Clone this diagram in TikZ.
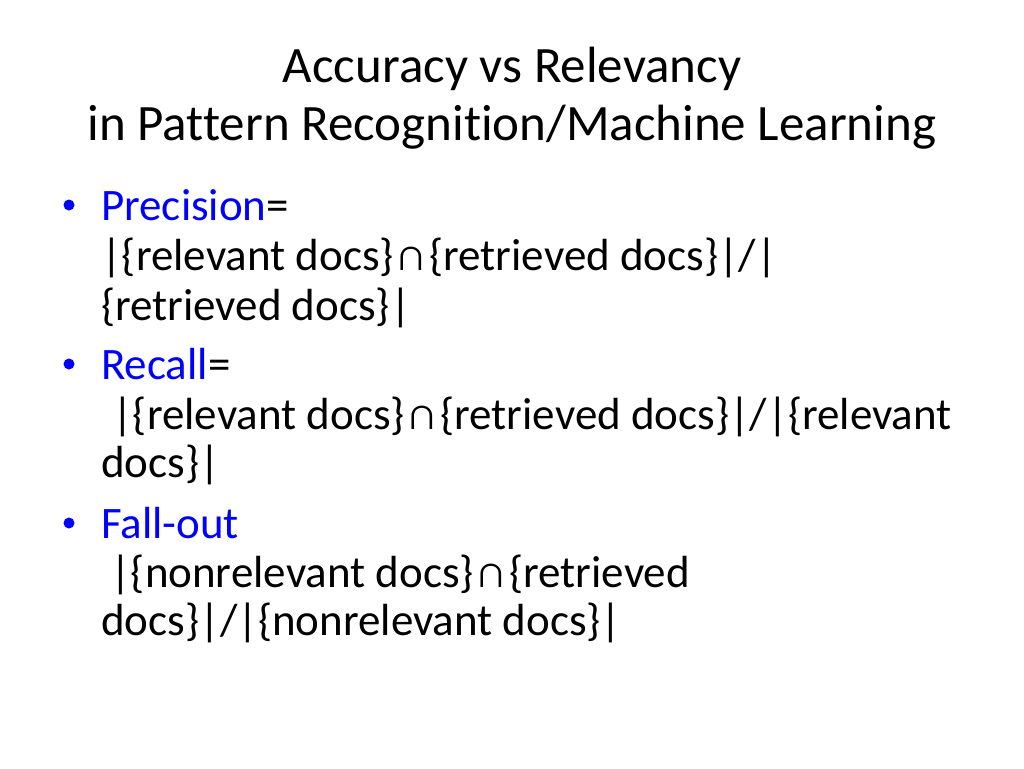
\documentclass[tikz,border=0pt]{standalone}
\usepackage{fontspec}
\setmainfont{Carlito}[Ligatures=NoCommon]
\definecolor{slideblue}{RGB}{0,0,255}
\newcommand{\capsym}{\hspace{2pt}∩\hspace{2pt}}
\begin{document}
\begin{tikzpicture}[x=1pt,y=-1pt,
  titletext/.style={anchor=base,inner sep=0pt,font=\fontsize{51}{56}\selectfont},
  bodytext/.style={anchor=base west,inner sep=0pt,font=\fontsize{45}{50}\selectfont},
  bulletmark/.style={circle,fill=slideblue,inner sep=0pt,minimum size=11pt}]
\useasboundingbox[fill=white] (0,0) rectangle (1024,768);
\node[titletext] (t1) at (512,82) {Accuracy vs Relevancy};
\node[titletext] (t2) at (512,140) {in Pattern Recognition/Machine Learning};
% Precision
\node[bulletmark] (b1) at (69,205) {};
\node[bodytext] (p1) at (101,220) {\textcolor{slideblue}{Precision}=};
\node[bodytext] (p2) at (101,270) {|\{relevant docs\}\capsym\{retrieved docs\}|/|};
\node[bodytext] (p3) at (101,320) {\{retrieved docs\}|};
% Recall
\node[bulletmark] (b2) at (69,364) {};
\node[bodytext] (r1) at (101,379) {\textcolor{slideblue}{Recall}=};
\node[bodytext] (r2) at (112,429) {|\{relevant docs\}\capsym\{retrieved docs\}|/|\{relevant};
\node[bodytext] (r3) at (101,477) {docs\}|};
% Fall-out
\node[bulletmark] (b3) at (69,523) {};
\node[bodytext] (f1) at (101,538) {\textcolor{slideblue}{Fall-out}};
\node[bodytext] (f2) at (110,587) {|\{nonrelevant docs\}\capsym\{retrieved};
\node[bodytext] (f3) at (101,635) {docs\}|/|\{nonrelevant docs\}|};
\end{tikzpicture}
\end{document}
